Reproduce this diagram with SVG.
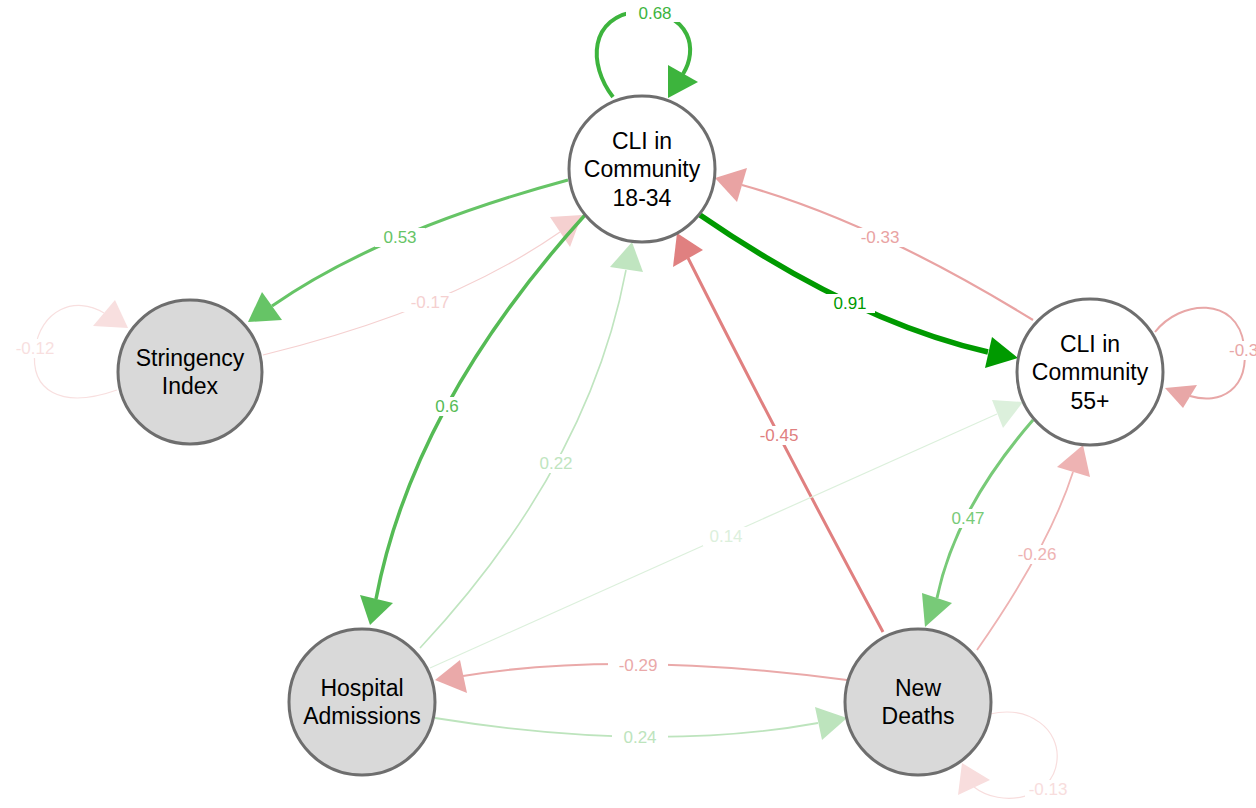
<svg xmlns="http://www.w3.org/2000/svg" width="1256" height="808" viewBox="0 0 1256 808">
<style>
.e{fill:none;stroke-linecap:butt}
.n circle{stroke:#6e6e6e;stroke-width:3}
.w{fill:#ffffff}
.g circle{fill:#d9d9d9}
.c circle{fill:#ffffff}
.nt{font-family:"Liberation Sans",Arial,sans-serif;font-size:23px;fill:#000;text-anchor:middle}
.lt{font-family:"Liberation Sans",Arial,sans-serif;font-size:17px;text-anchor:middle}
</style>
<rect width="1256" height="808" fill="#ffffff"/>
<g id="edges">
  <!-- 0.68 loop -->
  <path class="e" d="M613,97 C588,65 588,16 640,11 C692,13 698,50 683,74" stroke="#3db43d" stroke-width="4"/>
  <polygon points="668,98 668,65 698,82" fill="#3db43d"/>
  <!-- 0.53 -->
  <path class="e" d="M568,180 Q380,231 272,306" stroke="#66c466" stroke-width="3"/>
  <polygon points="248,322 262,292 282,320" fill="#66c466"/>
  <!-- -0.17 -->
  <path class="e" d="M263,355 Q448,310 560,232" stroke="#f5d0d0" stroke-width="1.2"/>
  <polygon points="582,215 550,217 570,247" fill="#f5d0d0"/>
  <!-- 0.6 -->
  <path class="e" d="M585,215 Q413,405 376,599" stroke="#55bb55" stroke-width="3.5"/>
  <polygon points="370,625 360,595 393,603" fill="#55bb55"/>
  <!-- 0.22 -->
  <path class="e" d="M420,648 Q589,467 626,270" stroke="#c0e5c0" stroke-width="1.6"/>
  <polygon points="632,242 610,267 643,272" fill="#c0e5c0"/>
  <!-- -0.45 -->
  <path class="e" d="M883,632 Q772,425 688,258" stroke="#e08080" stroke-width="3"/>
  <polygon points="677,233 703,250 673,267" fill="#e08080"/>
  <!-- 0.91 -->
  <path class="e" d="M700,215 Q856,322 988,352" stroke="#009a00" stroke-width="5.5"/>
  <polygon points="1018,358 992,337 985,368" fill="#009a00"/>
  <!-- -0.33 -->
  <path class="e" d="M1033,320 Q872,221 742,185" stroke="#e9a3a3" stroke-width="2.2"/>
  <polygon points="715,178 747,168 737,202" fill="#e9a3a3"/>
  <!-- 0.14 -->
  <path class="e" d="M430,668 L997,414" stroke="#dcf0dc" stroke-width="1.2"/>
  <polygon points="1023,402 992,400 1003,428" fill="#dcf0dc"/>
  <!-- 0.47 -->
  <path class="e" d="M1033,420 Q955,510 937,598" stroke="#78ca78" stroke-width="3"/>
  <polygon points="925,627 922,593 952,603" fill="#78ca78"/>
  <!-- -0.26 -->
  <path class="e" d="M977,650 Q1049,547 1073,472" stroke="#eeb3b3" stroke-width="1.8"/>
  <polygon points="1083,445 1057,467 1090,477" fill="#eeb3b3"/>
  <!-- -0.29 -->
  <path class="e" d="M847,680 Q621,650 463,676" stroke="#eaa9a9" stroke-width="2"/>
  <polygon points="435,680 460,660 467,693" fill="#eaa9a9"/>
  <!-- 0.24 -->
  <path class="e" d="M435,718 Q653,753 818,723" stroke="#bde4bd" stroke-width="1.8"/>
  <polygon points="847,718 815,707 822,740" fill="#bde4bd"/>
  <!-- -0.12 loop -->
  <path class="e" d="M117,390 C60,410 30,390 35,350 C40,310 75,295 104,313" stroke="#f8dfdf" stroke-width="1.2"/>
  <polygon points="128,328 115,300 93,326" fill="#f8dfdf"/>
  <!-- -0.3 loop -->
  <path class="e" d="M1155,332 C1180,300 1237,295 1244,345 C1250,390 1220,405 1190,396" stroke="#e8a7a7" stroke-width="2"/>
  <polygon points="1165,388 1197,385 1183,408" fill="#e8a7a7"/>
  <!-- -0.13 loop -->
  <path class="e" d="M990,714 C1030,705 1060,730 1057,760 C1054,800 1000,808 974,787" stroke="#f8dddd" stroke-width="1.2"/>
  <polygon points="962,763 990,780 958,795" fill="#f8dddd"/>
</g>
<g id="edge-labels">
  <rect class="w" x="626" y="3" width="58" height="19"/><text class="lt" x="655" y="19" fill="#3db43d">0.68</text>
  <rect class="w" x="375" y="228" width="50" height="19"/><text class="lt" x="400" y="243" fill="#66c466">0.53</text>
  <rect class="w" x="402" y="293" width="56" height="19"/><text class="lt" x="430" y="308" fill="#f5d0d0">-0.17</text>
  <rect class="w" x="431" y="397" width="32" height="19"/><text class="lt" x="447" y="412" fill="#55bb55">0.6</text>
  <rect class="w" x="533" y="454" width="46" height="19"/><text class="lt" x="556" y="469" fill="#c0e5c0">0.22</text>
  <rect class="w" x="753" y="426" width="52" height="19"/><text class="lt" x="779" y="441" fill="#e08080">-0.45</text>
  <rect class="w" x="825" y="294" width="50" height="19"/><text class="lt" x="850" y="309" fill="#009a00">0.91</text>
  <rect class="w" x="850" y="228" width="60" height="19"/><text class="lt" x="880" y="243" fill="#e9a3a3">-0.33</text>
  <rect class="w" x="703" y="527" width="46" height="19"/><text class="lt" x="726" y="542" fill="#dcf0dc">0.14</text>
  <rect class="w" x="945" y="509" width="46" height="19"/><text class="lt" x="968" y="524" fill="#78ca78">0.47</text>
  <rect class="w" x="1011" y="545" width="52" height="19"/><text class="lt" x="1037" y="560" fill="#eeb3b3">-0.26</text>
  <rect class="w" x="608" y="656" width="60" height="19"/><text class="lt" x="638" y="671" fill="#eaa9a9">-0.29</text>
  <rect class="w" x="612" y="728" width="56" height="19"/><text class="lt" x="640" y="743" fill="#bde4bd">0.24</text>
  <rect class="w" x="12" y="339" width="46" height="19"/><text class="lt" x="35" y="354" fill="#f8dfdf">-0.12</text>
  <rect class="w" x="1025" y="780" width="46" height="19"/><text class="lt" x="1048" y="795" fill="#f8dddd">-0.13</text>
  <rect class="w" x="1228" y="341" width="28" height="19"/><text class="lt" x="1229" y="356" fill="#e8a7a7" style="text-anchor:start">-0.3</text>
</g>
<g id="node-cli1834" class="n c">
  <circle cx="642" cy="169" r="73"/>
  <text class="nt" x="642" y="149">CLI in</text>
  <text class="nt" x="642" y="177">Community</text>
  <text class="nt" x="642" y="206">18-34</text>
</g>
<g id="node-cli55" class="n c">
  <circle cx="1090" cy="372" r="73"/>
  <text class="nt" x="1090" y="352">CLI in</text>
  <text class="nt" x="1090" y="380">Community</text>
  <text class="nt" x="1090" y="409">55+</text>
</g>
<g id="node-stringency" class="n g">
  <circle cx="190" cy="372" r="72"/>
  <text class="nt" x="190" y="366">Stringency</text>
  <text class="nt" x="190" y="394">Index</text>
</g>
<g id="node-hospital" class="n g">
  <circle cx="362" cy="702" r="73"/>
  <text class="nt" x="362" y="696">Hospital</text>
  <text class="nt" x="362" y="724">Admissions</text>
</g>
<g id="node-deaths" class="n g">
  <circle cx="918" cy="702" r="73"/>
  <text class="nt" x="918" y="696">New</text>
  <text class="nt" x="918" y="724">Deaths</text>
</g>
</svg>
